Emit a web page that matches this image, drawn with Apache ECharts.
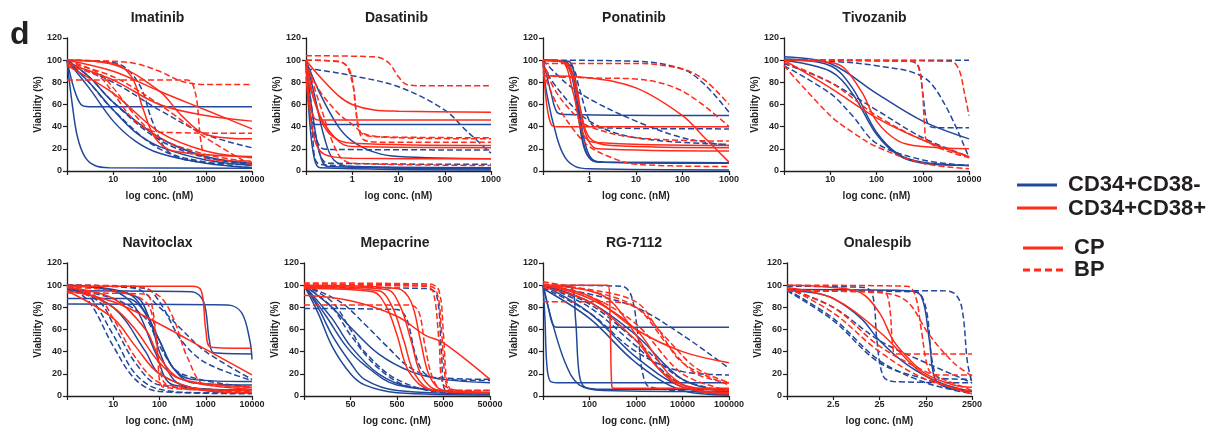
<!DOCTYPE html>
<html>
<head>
<meta charset="utf-8">
<script src="https://cdn.jsdelivr.net/npm/echarts@6/dist/echarts.min.js"></script>
<style>
  html, body { margin: 0; padding: 0; background: #fff; }
  #chart { width: 1216px; height: 428px; }
</style>
</head>
<body>
<div id="chart"></div>
<script>
// panel titles, first concentration on each x axis (nM) and the decade tick labels
const titles = ['Imatinib', 'Dasatinib', 'Ponatinib', 'Tivozanib', 'Navitoclax', 'Mepacrine', 'RG-7112', 'Onalespib']
const startConc = [1, 0.1, 0.1, 1, 1, 5, 10, 0.25]
const xTickLabels = [
  ['10', '100', '1000', '10000'],
  ['1', '10', '100', '1000'],
  ['1', '10', '100', '1000'],
  ['10', '100', '1000', '10000'],
  ['10', '100', '1000', '10000'],
  ['50', '500', '5000', '50000'],
  ['100', '1000', '10000', '100000'],
  ['2.5', '25', '250', '2500']
]

// curves: [conc (nM), viability (%)]
// Neg = CD34+CD38- (blue), Pos = CD34+CD38+ (red), CP solid, BP dashed
const imatinibNegCP = [
  [[1, 100], [1.4, 75], [2, 60], [3, 58], [10000, 58]],
  [[1, 100], [1.3, 60], [1.7, 30], [2.5, 12], [4, 5], [8, 3], [10000, 2.5]],
  [[1, 100], [3, 80], [10, 55], [30, 35], [100, 22], [1000, 10], [10000, 5]],
  [[1, 100], [3, 75], [10, 45], [30, 27], [100, 16], [1000, 7], [10000, 3]],
  [[1, 100], [3, 85], [10, 62], [100, 30], [1000, 13], [10000, 7]]
]
const imatinibNegBP = [
  [[1, 100], [10, 98], [20, 92], [40, 75], [70, 45], [150, 18], [500, 9], [10000, 6]],
  [[1, 98], [10, 80], [100, 55], [1000, 33], [10000, 21]],
  [[1, 100], [3, 85], [10, 62], [100, 28], [1000, 12], [10000, 6]],
  [[1, 100], [3, 80], [10, 55], [100, 20], [1000, 8], [10000, 3]]
]
const imatinibPosCP = [
  [[1, 100], [10, 90], [100, 72], [1000, 55], [10000, 38]],
  [[1, 97], [10, 82], [100, 60], [1000, 50], [10000, 45]],
  [[1, 100], [10, 97], [25, 85], [45, 55], [80, 30], [200, 18], [10000, 13]],
  [[1, 100], [10, 96], [100, 72], [300, 50], [1000, 33], [10000, 29]],
  [[1, 95], [10, 70], [100, 35], [1000, 18], [10000, 12]]
]
const imatinibPosBP = [
  [[1, 100], [10, 99], [30, 97], [100, 90], [300, 81], [1000, 78], [10000, 78]],
  [[1, 82], [400, 82], [600, 70], [800, 25], [1100, 10], [10000, 9]],
  [[1, 95], [5, 85], [10, 70], [30, 45], [100, 35], [10000, 34]],
  [[1, 98], [10, 85], [100, 60], [1000, 30], [10000, 5]],
  [[1, 100], [5, 88], [10, 75], [30, 50], [100, 30], [1000, 15], [10000, 8]]
]

const dasatinibNegCP = [
  [[0.1, 100], [0.11, 70], [0.13, 46], [0.16, 42], [1000, 42]],
  [[0.1, 100], [0.2, 70], [0.5, 40], [1, 27], [3, 17], [10, 13], [1000, 11]],
  [[0.1, 100], [0.13, 60], [0.2, 15], [0.3, 4], [1000, 2]],
  [[0.1, 100], [0.12, 45], [0.15, 12], [0.2, 3], [1000, 1]],
  [[0.1, 100], [0.15, 70], [0.25, 30], [0.4, 10], [1, 4], [1000, 3]]
]
const dasatinibNegBP = [
  [[0.1, 92], [0.2, 91], [1, 86], [10, 76], [100, 55], [300, 36], [1000, 16]],
  [[0.1, 100], [0.13, 45], [0.2, 22], [0.3, 19.5], [1000, 19]],
  [[0.1, 100], [0.14, 50], [0.2, 15], [0.3, 7], [1000, 6]],
  [[0.1, 100], [0.14, 30], [0.2, 6], [1000, 2]]
]
const dasatinibPosCP = [
  [[0.1, 100], [0.2, 85], [0.5, 68], [1, 60], [3, 55], [10, 54], [1000, 53]],
  [[0.1, 100], [0.12, 62], [0.15, 48], [0.2, 46], [1000, 46]],
  [[0.1, 100], [0.15, 65], [0.3, 35], [1, 25], [1000, 23]],
  [[0.1, 90], [0.2, 50], [0.5, 27], [1, 22], [1000, 21]],
  [[0.1, 85], [0.15, 30], [0.25, 15], [1, 11.5], [1000, 11]]
]
const dasatinibPosBP = [
  [[0.1, 104], [3, 103], [6, 98], [10, 85], [15, 78], [30, 77], [1000, 77]],
  [[0.1, 100], [0.5, 99], [0.9, 90], [1.2, 55], [1.5, 35], [3, 31], [1000, 30]],
  [[0.1, 100], [0.6, 98], [1, 80], [1.3, 45], [1.8, 28], [5, 26], [1000, 26]],
  [[0.1, 95], [0.2, 72], [0.5, 52], [1, 42], [2, 33], [10, 30], [1000, 29]],
  [[0.1, 100], [0.2, 60], [0.5, 15], [1, 7], [1000, 5]]
]

const ponatinibNegCP = [
  [[0.1, 100], [0.3, 99], [0.45, 85], [0.6, 50], [0.8, 20], [1.2, 9], [2, 8], [1000, 7.5]],
  [[0.1, 100], [0.35, 99], [0.5, 82], [0.65, 45], [0.9, 18], [1.3, 9], [2, 8], [1000, 7.5]],
  [[0.1, 100], [0.25, 99], [0.4, 88], [0.55, 55], [0.75, 22], [1.1, 10], [2, 8], [1000, 7]],
  [[0.1, 100], [0.15, 70], [0.2, 53], [0.3, 51], [1000, 50]],
  [[0.1, 100], [0.12, 70], [0.2, 30], [0.3, 12], [0.5, 4], [1, 2], [1000, 1]]
]
const ponatinibNegBP = [
  [[0.1, 100], [10, 99], [100, 92], [300, 78], [1000, 53]],
  [[0.1, 100], [0.4, 95], [0.6, 75], [1, 45], [1.5, 39], [1000, 38]],
  [[0.1, 100], [0.3, 80], [1, 65], [10, 45], [100, 30], [1000, 23]],
  [[0.1, 95], [0.2, 75], [1, 45], [10, 30], [1000, 24]]
]
const ponatinibPosCP = [
  [[0.1, 86], [1, 84], [10, 75], [100, 50], [300, 30], [1000, 8]],
  [[0.1, 100], [0.12, 60], [0.15, 42], [0.2, 40], [1000, 40]],
  [[0.1, 100], [0.3, 98], [0.5, 80], [0.8, 35], [1.5, 20], [1000, 18]],
  [[0.1, 100], [0.3, 97], [0.6, 60], [1, 30], [3, 23], [1000, 21]],
  [[0.1, 100], [0.25, 99], [0.45, 70], [0.7, 35], [1.2, 26], [1000, 23]]
]
const ponatinibPosBP = [
  [[0.1, 97], [10, 97], [100, 92], [300, 82], [1000, 60]],
  [[0.1, 100], [0.15, 86], [1, 84], [10, 83], [100, 72], [1000, 40]],
  [[0.1, 95], [0.2, 70], [0.5, 50], [1, 40], [10, 30], [1000, 27]],
  [[0.1, 90], [0.2, 60], [0.5, 35], [1, 22], [3, 12], [10, 6], [1000, 4]]
]

const tivozanibNegCP = [
  [[1, 103], [10, 97], [100, 70], [1000, 45], [10000, 29]],
  [[1, 101], [10, 95], [30, 75], [100, 35], [300, 15], [1000, 8], [10000, 5]],
  [[1, 100], [10, 90], [30, 70], [100, 33], [300, 14], [1000, 7], [10000, 5]]
]
const tivozanibNegBP = [
  [[1, 100], [10000, 100]],
  [[1, 100], [500, 99], [800, 95], [1000, 70], [1300, 42], [2000, 39], [10000, 39]],
  [[1, 100], [10, 99], [100, 95], [1000, 85], [3000, 60], [10000, 12]],
  [[1, 97], [10, 80], [100, 55], [1000, 30], [10000, 13]],
  [[1, 95], [10, 70], [30, 50], [100, 25], [1000, 10], [10000, 5]]
]
const tivozanibPosCP = [
  [[1, 100], [10, 98], [20, 93], [50, 70], [100, 45], [300, 27], [1000, 22], [10000, 20]],
  [[1, 100], [10, 75], [100, 48], [1000, 28], [10000, 13]]
]
const tivozanibPosBP = [
  [[1, 100], [600, 99], [900, 85], [1100, 40], [1200, 28], [10000, 12]],
  [[1, 100], [4000, 99], [6000, 92], [8000, 70], [10000, 50]],
  [[1, 98], [10, 80], [100, 50], [1000, 28], [10000, 13]],
  [[1, 95], [10, 50], [30, 35], [100, 22], [1000, 7], [10000, 2]]
]

const navitoclaxNegCP = [
  [[1, 95], [500, 94], [900, 85], [1200, 50], [1500, 39], [10000, 38]],
  [[1, 83], [3000, 82], [6000, 75], [9000, 50], [10000, 33]],
  [[1, 88], [20, 88], [40, 80], [100, 50], [200, 25], [500, 15], [10000, 13]],
  [[1, 100], [30, 90], [60, 70], [100, 40], [200, 15], [500, 7], [10000, 5]],
  [[1, 100], [20, 93], [50, 75], [100, 50], [200, 25], [500, 12], [10000, 10]],
  [[1, 100], [10, 95], [30, 80], [80, 40], [200, 10], [10000, 5]],
  [[1, 98], [10, 80], [50, 40], [100, 20], [1000, 5], [10000, 3]]
]
const navitoclaxNegBP = [
  [[1, 100], [3, 90], [10, 55], [30, 20], [100, 6], [1000, 3], [10000, 3]],
  [[1, 100], [3, 85], [10, 45], [30, 15], [100, 4], [10000, 2]],
  [[1, 98], [5, 85], [10, 65], [30, 30], [100, 10], [10000, 5]],
  [[1, 100], [30, 97], [100, 80], [300, 60], [1000, 40], [10000, 15]],
  [[1, 100], [50, 97], [100, 85], [300, 50], [1000, 30], [10000, 14]],
  [[1, 96], [10, 88], [50, 70], [100, 45], [300, 20], [10000, 8]]
]
const navitoclaxPosCP = [
  [[1, 99], [500, 99], [800, 95], [1000, 60], [1300, 44], [10000, 43]],
  [[1, 95], [10, 85], [100, 65], [1000, 42], [10000, 19]],
  [[1, 100], [10, 80], [30, 60], [100, 30], [300, 15], [10000, 8]],
  [[1, 98], [10, 88], [50, 60], [100, 35], [300, 15], [10000, 6]],
  [[1, 95], [10, 70], [30, 45], [100, 20], [1000, 5], [10000, 3]]
]
const navitoclaxPosBP = [
  [[1, 100], [5, 88], [10, 70], [30, 35], [100, 12], [1000, 5], [10000, 4]],
  [[1, 98], [10, 95], [50, 85], [80, 60], [100, 30], [150, 10], [10000, 5]],
  [[1, 100], [30, 99], [100, 90], [200, 70], [400, 35], [1000, 10], [10000, 8]],
  [[1, 93], [50, 92], [70, 80], [90, 40], [120, 8], [10000, 5]]
]

const mepacrineNegCP = [
  [[5, 100], [10, 80], [20, 55], [50, 30], [100, 15], [500, 5], [50000, 2]],
  [[5, 100], [10, 75], [20, 45], [50, 20], [100, 10], [500, 3], [50000, 1]],
  [[5, 100], [20, 70], [50, 45], [200, 20], [1000, 8], [50000, 3]],
  [[5, 100], [20, 80], [50, 62], [200, 38], [1000, 22], [5000, 15], [50000, 12]],
  [[5, 100], [15, 72], [40, 45], [100, 28], [500, 10], [50000, 2]]
]
const mepacrineNegBP = [
  [[5, 98], [2000, 97], [3500, 92], [4500, 40], [5500, 5], [50000, 2]],
  [[5, 79], [500, 78], [800, 70], [1200, 40], [1800, 22], [3000, 17], [50000, 15]],
  [[5, 100], [20, 85], [50, 60], [100, 40], [500, 15], [5000, 3], [50000, 2]],
  [[5, 100], [20, 80], [50, 55], [200, 25], [1000, 8], [50000, 3]],
  [[5, 100], [30, 85], [100, 65], [300, 45], [1000, 25], [5000, 15], [50000, 14]]
]
const mepacrinePosCP = [
  [[5, 91], [50, 86], [500, 72], [2000, 55], [5000, 48], [50000, 15]],
  [[5, 98], [200, 95], [400, 80], [700, 50], [1200, 20], [3000, 5], [50000, 3]],
  [[5, 99], [300, 96], [600, 80], [1000, 50], [1700, 18], [4000, 5], [50000, 3]],
  [[5, 97], [150, 94], [300, 80], [500, 55], [900, 22], [2500, 6], [50000, 3]],
  [[5, 100], [500, 97], [1000, 85], [1600, 50], [2500, 18], [5000, 5], [50000, 3]]
]
const mepacrinePosBP = [
  [[5, 101], [2000, 100], [3500, 95], [4500, 60], [5500, 15], [7000, 5], [50000, 5]],
  [[5, 102], [2500, 101], [4000, 95], [5000, 55], [6000, 12], [8000, 5], [50000, 5]],
  [[5, 100], [2000, 99], [3000, 94], [4000, 50], [5000, 10], [50000, 3]],
  [[5, 82], [1000, 82], [1500, 75], [2000, 45], [3000, 15], [5000, 5], [50000, 5]]
]

const rgNegCP = [
  [[10, 100], [13, 80], [16, 65], [20, 62], [100000, 62]],
  [[10, 100], [11, 70], [12, 30], [14, 14], [20, 12], [100000, 12]],
  [[10, 100], [15, 70], [30, 30], [60, 10], [200, 5], [100000, 4]],
  [[10, 100], [40, 98], [50, 70], [60, 20], [80, 8], [200, 6], [100000, 6]],
  [[10, 100], [100, 75], [1000, 35], [10000, 8], [100000, 1]],
  [[10, 97], [100, 70], [1000, 30], [10000, 5], [100000, 1]],
  [[10, 100], [100, 85], [1000, 55], [10000, 15], [100000, 3]]
]
const rgNegBP = [
  [[10, 100], [500, 99], [800, 90], [1100, 55], [1400, 20], [2000, 8], [100000, 3]],
  [[10, 100], [100, 92], [1000, 80], [10000, 55], [100000, 25]],
  [[10, 98], [100, 75], [1000, 40], [10000, 22], [100000, 19]],
  [[10, 100], [100, 80], [1000, 45], [10000, 10], [100000, 2]],
  [[10, 100], [100, 83], [1000, 50], [10000, 15], [100000, 4]]
]
const rgPosCP = [
  [[10, 100], [250, 100], [280, 60], [300, 10], [330, 7], [100000, 7]],
  [[10, 100], [100, 90], [1000, 60], [10000, 40], [100000, 30]],
  [[10, 100], [100, 95], [300, 85], [1000, 55], [3000, 25], [10000, 8], [100000, 3]],
  [[10, 98], [100, 85], [1000, 50], [3000, 25], [10000, 10], [100000, 5]],
  [[10, 100], [100, 88], [1000, 60], [5000, 20], [20000, 5], [100000, 2]]
]
const rgPosBP = [
  [[10, 85], [200, 85], [1000, 80], [5000, 50], [20000, 25], [100000, 12]],
  [[10, 103], [100, 95], [1000, 80], [5000, 45], [20000, 20], [100000, 12]],
  [[10, 101], [100, 96], [1000, 85], [3000, 60], [10000, 30], [100000, 10]],
  [[10, 100], [100, 90], [1000, 65], [10000, 20], [100000, 5]]
]

const onalespibNegCP = [
  [[0.25, 95], [1, 93], [2.5, 88], [10, 70], [25, 50], [100, 28], [500, 12], [2500, 4]],
  [[0.25, 96], [100, 95], [200, 90], [300, 50], [400, 15], [800, 7], [2500, 4]]
]
const onalespibNegBP = [
  [[0.25, 95], [500, 95], [1000, 93], [1500, 80], [2000, 30], [2500, 12]],
  [[0.25, 99], [12, 98], [18, 90], [22, 50], [30, 18], [50, 13], [2500, 12]],
  [[0.25, 95], [150, 94], [250, 80], [350, 30], [500, 16], [2500, 15]],
  [[0.25, 95], [2.5, 68], [25, 30], [250, 15], [2500, 3]],
  [[0.25, 96], [2.5, 70], [25, 32], [250, 12], [2500, 2]],
  [[0.25, 97], [2.5, 80], [25, 50], [250, 30], [2500, 12]]
]
const onalespibPosCP = [
  [[0.25, 100], [2.5, 98], [10, 93], [25, 75], [50, 50], [100, 35], [250, 20], [1000, 10], [2500, 8]],
  [[0.25, 98], [2.5, 88], [25, 58], [250, 18], [2500, 2]]
]
const onalespibPosBP = [
  [[0.25, 100], [100, 99], [150, 90], [200, 60], [280, 25], [400, 19], [2500, 19]],
  [[0.25, 95], [30, 94], [40, 85], [50, 40], [60, 38], [2500, 38]],
  [[0.25, 95], [30, 93], [100, 85], [300, 55], [1000, 30], [2500, 18]],
  [[0.25, 97], [2.5, 80], [25, 45], [250, 22], [2500, 5]],
  [[0.25, 98], [2.5, 75], [25, 40], [250, 15], [2500, 4]]
]

const panelCurves = [
  [imatinibNegCP, imatinibNegBP, imatinibPosCP, imatinibPosBP],
  [dasatinibNegCP, dasatinibNegBP, dasatinibPosCP, dasatinibPosBP],
  [ponatinibNegCP, ponatinibNegBP, ponatinibPosCP, ponatinibPosBP],
  [tivozanibNegCP, tivozanibNegBP, tivozanibPosCP, tivozanibPosBP],
  [navitoclaxNegCP, navitoclaxNegBP, navitoclaxPosCP, navitoclaxPosBP],
  [mepacrineNegCP, mepacrineNegBP, mepacrinePosCP, mepacrinePosBP],
  [rgNegCP, rgNegBP, rgPosCP, rgPosBP],
  [onalespibNegCP, onalespibNegBP, onalespibPosCP, onalespibPosBP]
]

const BLUE = '#22489b'
const RED = '#ff2a1a'
const INK = '#231f20'
const FONT = '"Liberation Sans", Arial, sans-serif'

// left, top, width of each plot area
const boxes = [
  [67, 38, 185], [306, 38, 185], [543, 38, 186], [784, 38, 185],
  [67, 263, 185], [304, 263, 186], [543, 263, 186], [787, 263, 185]
]
const plotHeight = 133
const groupColor = [BLUE, BLUE, RED, RED]
const groupDash = ['solid', [6, 3], 'solid', [6, 3]]

let grids = []
let xAxes = []
let yAxes = []
let series = []
let graphics = []

boxes.forEach((b, i) => {
  grids.push({left: b[0], top: b[1], width: b[2], height: plotHeight})
  xAxes.push({
    type: 'value',
    gridIndex: i,
    min: 0,
    max: 4,
    interval: 1,
    name: 'log conc. (nM)',
    nameLocation: 'middle',
    nameGap: 20,
    nameTextStyle: {color: INK, fontFamily: FONT, fontWeight: 'bold', fontSize: 10},
    splitLine: {show: false},
    axisLine: {lineStyle: {color: INK, width: 1.3}},
    axisTick: {length: 4, lineStyle: {color: INK, width: 1.2}},
    axisLabel: {
      margin: 4,
      color: INK,
      fontFamily: FONT,
      fontWeight: 'bold',
      fontSize: 9,
      formatter: v => (v === 0 ? '' : xTickLabels[i][v - 1])
    }
  })
  yAxes.push({
    type: 'value',
    gridIndex: i,
    min: 0,
    max: 120,
    interval: 20,
    name: 'Viability (%)',
    nameLocation: 'middle',
    nameGap: 24,
    nameRotate: 90,
    nameTextStyle: {color: INK, fontFamily: FONT, fontWeight: 'bold', fontSize: 10},
    splitLine: {show: false},
    axisLine: {show: true, lineStyle: {color: INK, width: 1.3}},
    axisTick: {show: true, length: 4, lineStyle: {color: INK, width: 1.2}},
    axisLabel: {margin: 5, color: INK, fontFamily: FONT, fontWeight: 'bold', fontSize: 9}
  })
  graphics.push({
    type: 'text',
    x: b[0] + b[2] / 2 - 2,
    y: b[1] - 20,
    style: {
      text: titles[i],
      fill: INK,
      font: 'bold 14px ' + FONT,
      align: 'center',
      verticalAlign: 'middle'
    }
  })
  panelCurves[i].forEach((group, g) => {
    group.forEach(curve => {
      series.push({
        type: 'line',
        xAxisIndex: i,
        yAxisIndex: i,
        showSymbol: false,
        smooth: 0.35,
        silent: true,
        clip: true,
        lineStyle: {color: groupColor[g], width: 1.5, type: groupDash[g]},
        data: curve.map(p => [Math.log10(p[0] / startConc[i]), p[1]])
      })
    })
  })
})

// panel letter and the key on the right
graphics.push(
  {type: 'text', x: 10, y: 19, style: {text: 'd', fill: INK, font: 'bold 32px ' + FONT}},
  {type: 'line', shape: {x1: 1017, y1: 185, x2: 1057, y2: 185}, style: {stroke: BLUE, lineWidth: 3}},
  {type: 'text', x: 1068, y: 185, style: {text: 'CD34+CD38-', fill: INK, font: 'bold 22px ' + FONT, verticalAlign: 'middle'}},
  {type: 'line', shape: {x1: 1017, y1: 208, x2: 1057, y2: 208}, style: {stroke: RED, lineWidth: 3}},
  {type: 'text', x: 1068, y: 209, style: {text: 'CD34+CD38+', fill: INK, font: 'bold 22px ' + FONT, verticalAlign: 'middle'}},
  {type: 'line', shape: {x1: 1023, y1: 248, x2: 1063, y2: 248}, style: {stroke: RED, lineWidth: 3}},
  {type: 'text', x: 1074, y: 248, style: {text: 'CP', fill: INK, font: 'bold 22px ' + FONT, verticalAlign: 'middle'}},
  {type: 'line', shape: {x1: 1023, y1: 270, x2: 1063, y2: 270}, style: {stroke: RED, lineWidth: 3, lineDash: [7, 4]}},
  {type: 'text', x: 1074, y: 270, style: {text: 'BP', fill: INK, font: 'bold 22px ' + FONT, verticalAlign: 'middle'}}
)

let myChart = echarts.init(document.getElementById('chart'), null, {renderer: 'canvas'})
myChart.setOption({
  animation: false,
  backgroundColor: '#fff',
  grid: grids,
  xAxis: xAxes,
  yAxis: yAxes,
  series: series,
  graphic: graphics
})
</script>
</body>
</html>
